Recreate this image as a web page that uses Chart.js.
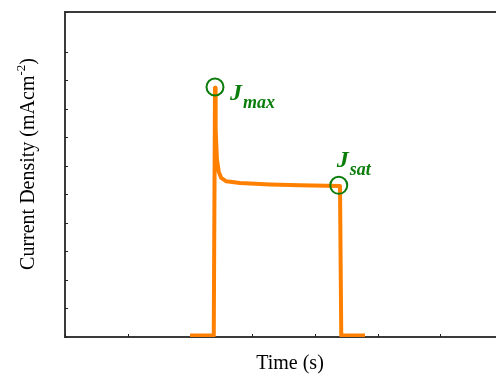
<!DOCTYPE html>
<html>
<head>
<meta charset="utf-8">
<script src="https://cdn.jsdelivr.net/npm/chart.js@4.4.0/dist/chart.umd.min.js"></script>
<style>
  html, body { margin: 0; padding: 0; background: #fff; overflow: hidden; }
  #wrap { width: 520px; height: 374px; }
</style>
</head>
<body>
<div id="wrap"><canvas id="chart" width="520" height="374"></canvas></div>
<script>
// time (arbitrary units) and current density
const timeValues = [2.0, 2.38, 2.40, 2.41, 2.43, 2.46, 2.50, 2.58, 2.80, 3.28, 3.76, 4.40, 4.42, 4.80];
const currentValues = [0.05, 0.05, 8.74, 7.30, 6.25, 5.80, 5.58, 5.46, 5.40, 5.35, 5.32, 5.30, 0.05, 0.05];

// marked points
const jmaxPoint = { x: 2.40, y: 8.77 };
const jsatPoint = { x: 4.38, y: 5.32 };

const xRange = [0, 7.2];
const yRange = [0, 11.4];

const lineColor = '#ff8000';
const markColor = '#0b7d0b';
const axisColor = '#3a3a3a';

const points = timeValues.map((t, i) => ({ x: t, y: currentValues[i] }));

// frame and inward ticks, under the curve
const framePlugin = {
  id: 'frame',
  beforeDatasetsDraw(chart) {
    const ctx = chart.ctx;
    const area = chart.chartArea;
    const xs = chart.scales.x;
    const ys = chart.scales.y;
    ctx.save();
    ctx.strokeStyle = axisColor;
    ctx.lineWidth = 2;
    ctx.beginPath();
    ctx.moveTo(area.right, area.top);
    ctx.lineTo(area.left, area.top);
    ctx.lineTo(area.left, area.bottom);
    ctx.lineTo(area.right, area.bottom);
    ctx.stroke();

    ctx.lineWidth = 1;
    ctx.strokeStyle = '#222';
    ctx.beginPath();
    xs.ticks.forEach(t => {
      const px = Math.round(xs.getPixelForValue(t.value)) + 0.5;
      ctx.moveTo(px, area.bottom);
      ctx.lineTo(px, area.bottom - 3);
    });
    ys.ticks.forEach(t => {
      const py = Math.round(ys.getPixelForValue(t.value)) + 0.5;
      ctx.moveTo(area.left, py);
      ctx.lineTo(area.left + 3, py);
    });
    ctx.stroke();
    ctx.restore();
  }
};

// axis titles and the J labels
const decorPlugin = {
  id: 'decor',
  afterDraw(chart) {
    const ctx = chart.ctx;
    const area = chart.chartArea;
    const xs = chart.scales.x;
    const ys = chart.scales.y;
    ctx.save();

    ctx.fillStyle = '#000';
    ctx.font = '20px "Liberation Serif", "Times New Roman", serif';
    ctx.textAlign = 'center';
    ctx.textBaseline = 'alphabetic';
    ctx.fillText('Time (s)', (area.left + area.right) / 2, 369);

    ctx.save();
    ctx.translate(34, 164);
    ctx.rotate(-Math.PI / 2);
    const main = 'Current Density (mAcm';
    ctx.font = '20px "Liberation Serif", "Times New Roman", serif';
    const wMain = ctx.measureText(main).width;
    ctx.font = '13px "Liberation Serif", "Times New Roman", serif';
    const wSup = ctx.measureText('-2').width;
    ctx.font = '20px "Liberation Serif", "Times New Roman", serif';
    const wClose = ctx.measureText(')').width;
    let x0 = -(wMain + wSup + wClose) / 2;
    ctx.textAlign = 'left';
    ctx.fillText(main, x0, 0);
    ctx.font = '13px "Liberation Serif", "Times New Roman", serif';
    ctx.fillText('-2', x0 + wMain, -9);
    ctx.font = '20px "Liberation Serif", "Times New Roman", serif';
    ctx.fillText(')', x0 + wMain + wSup, 0);
    ctx.restore();

    // circles
    ctx.strokeStyle = markColor;
    ctx.lineWidth = 2;
    [jmaxPoint, jsatPoint].forEach(p => {
      ctx.beginPath();
      ctx.arc(xs.getPixelForValue(p.x), ys.getPixelForValue(p.y), 8.5, 0, Math.PI * 2);
      ctx.stroke();
    });

    // labels
    ctx.fillStyle = markColor;
    ctx.textAlign = 'left';
    const drawJ = (px, py, sub, dx, dy) => {
      ctx.font = 'italic bold 24px "Liberation Serif", "Times New Roman", serif';
      ctx.fillText('J', px, py);
      const wJ = ctx.measureText('J').width;
      ctx.font = 'italic bold 18px "Liberation Serif", "Times New Roman", serif';
      ctx.fillText(sub, px + wJ + dx, py + dy);
    };
    const mx = xs.getPixelForValue(jmaxPoint.x);
    const my = ys.getPixelForValue(jmaxPoint.y);
    drawJ(mx + 15, my + 13, 'max', 1, 8);
    const sx = xs.getPixelForValue(jsatPoint.x);
    const sy = ys.getPixelForValue(jsatPoint.y);
    drawJ(sx - 2, sy - 18, 'sat', 1, 8);

    ctx.restore();
  }
};

new Chart(document.getElementById('chart'), {
  type: 'line',
  data: {
    datasets: [{
      data: points,
      borderColor: lineColor,
      borderWidth: 4,
      pointRadius: 0,
      tension: 0,
      fill: false,
      borderJoinStyle: 'round'
    }]
  },
  options: {
    responsive: false,
    animation: false,
    layout: { padding: { top: 12, right: 5, left: 0, bottom: 0 } },
    plugins: { legend: { display: false }, tooltip: { enabled: false } },
    scales: {
      x: {
        type: 'linear',
        min: xRange[0],
        max: xRange[1],
        ticks: { display: false, stepSize: 1 },
        grid: { display: false },
        border: { display: false },
        afterFit: s => { s.height = 37; }
      },
      y: {
        type: 'linear',
        min: yRange[0],
        max: yRange[1],
        ticks: { display: false, stepSize: 1 },
        grid: { display: false },
        border: { display: false },
        afterFit: s => { s.width = 65; }
      }
    }
  },
  plugins: [framePlugin, decorPlugin]
});
</script>
</body>
</html>
